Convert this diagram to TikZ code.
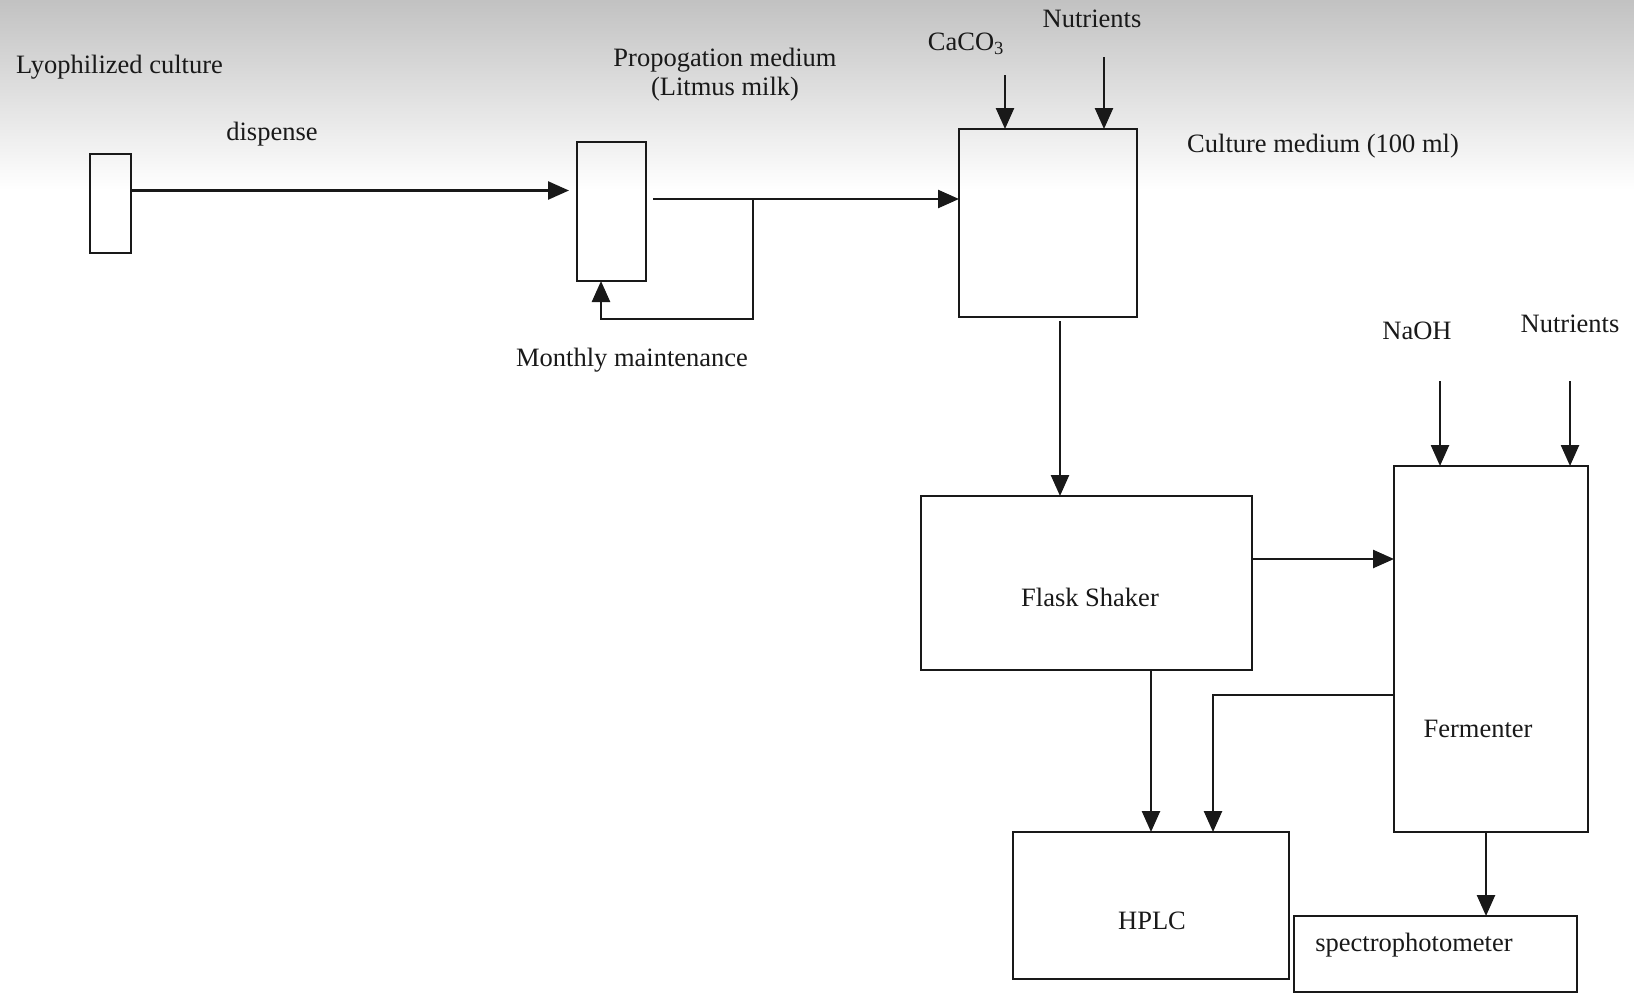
\documentclass[tikz,border=0pt]{standalone}
\usepackage{fontspec}
\setmainfont{Liberation Serif}
\usetikzlibrary{arrows.meta,calc}
\begin{document}
\begin{tikzpicture}[x=1pt,y=-1pt,
  box/.style={draw=black!90,line width=2.5pt,rectangle,inner sep=0pt,outer sep=0pt},
  lbl/.style={font=\fontsize{26.5}{29}\selectfont,inner sep=0pt,text=black!90},
  arr/.style={draw=black!90,line width=2.5pt,-{Triangle[length=21pt,width=18pt]}},
  ln/.style={draw=black!90,line width=2.5pt}]
\useasboundingbox (0,0) rectangle (1634,994);
\fill[white] (0,0) rectangle (1634,994);
\fill[top color=black!24,bottom color=white] (0,0) rectangle (1634,190);

% boxes
\node[box,minimum width=41pt,minimum height=99pt] (b1) at (110.5,203.5) {};
\node[box,minimum width=69pt,minimum height=139pt] (b2) at (611.5,211.5) {};
\node[box,minimum width=178pt,minimum height=188pt] (b3) at (1048,223) {};
\node[box,minimum width=331pt,minimum height=174pt] (flask) at (1086.5,583) {};
\node[box,minimum width=194pt,minimum height=366pt] (ferm) at (1491,649) {};
\node[box,minimum width=276pt,minimum height=147pt] (hplc) at (1151,905.5) {};
\node[box,minimum width=283pt,minimum height=76pt] (spec) at (1435.5,954) {};

% labels
\node[lbl] (lyo) at (119.5,67) {Lyophilized culture};
\node[lbl] (disp) at (272,134) {dispense};
\node[lbl,align=center] (prop) at (725,74.5) {Propogation medium\\(Litmus milk)};
\node[lbl] (mm) at (632,360) {Monthly maintenance};
\node[lbl] (caco) at (966,44) {CaCO\textsubscript{3}};
\node[lbl] (nut1) at (1092,19) {Nutrients};
\node[lbl] (cm) at (1323,146) {Culture medium (100 ml)};
\node[lbl] (naoh) at (1417,331) {NaOH};
\node[lbl] (nut2) at (1570,324) {Nutrients};
\node[lbl] (tflask) at (1090,597) {Flask Shaker};
\node[lbl] (tferm) at (1478,729) {Fermenter};
\node[lbl] (thplc) at (1152,921) {HPLC};
\node[lbl] (tspec) at (1414,945) {spectrophotometer};

% free ends
\coordinate (ca) at (1005,75);
\coordinate (n1) at (1104,57);
\coordinate (na) at (1440,381);
\coordinate (n2) at (1570,381);
\coordinate (br) at (753,199);
\coordinate (s2) at (653,199);

% connectors
\draw[arr,shorten >=8pt] ([yshift=13pt]b1.east) -- ([yshift=13pt]b1.east -| b2.west);
\draw[arr] (s2) -- (s2 -| b3.west);
\draw[arr] (br) -- ++(0,120) -| ([xshift=-10.5pt]b2.south);
\draw[arr] (ca) -- (ca |- b3.north);
\draw[arr] (n1) -- (n1 |- b3.north);
\draw[arr] ([xshift=12pt,yshift=-4pt]b3.south) -- ([xshift=12pt]b3.south |- flask.north);
\draw[arr] ([yshift=24pt]flask.east) -- ([yshift=24pt]flask.east -| ferm.west);
\draw[arr] (na) -- (na |- ferm.north);
\draw[arr] (n2) -- (n2 |- ferm.north);
\draw[arr] (hplc.north |- flask.south) -- (hplc.north);
\draw[arr] ([yshift=-46pt]ferm.west) -| ([xshift=62pt]hplc.north);
\draw[arr] ([xshift=-5pt]ferm.south) -- ([xshift=-5pt]ferm.south |- spec.north);
\end{tikzpicture}
\end{document}
